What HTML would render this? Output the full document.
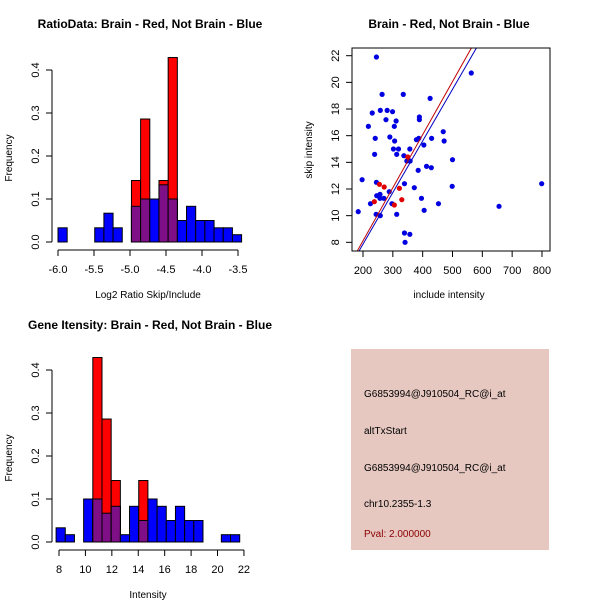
<!DOCTYPE html>
<html><head><meta charset="utf-8"><style>
html,body{margin:0;padding:0;background:#fff}
svg{display:block;font-family:"Liberation Sans",sans-serif}
</style></head><body>
<svg id="c" width="600" height="600" xmlns="http://www.w3.org/2000/svg">
<rect x="351" y="349" width="198" height="201" fill="#e6c8c1"/>
<g font-size="10" fill="#000">
<text x="364" y="397">G6853994@J910504_RC@i_at</text>
<text x="364" y="434">altTxStart</text>
<text x="364" y="471">G6853994@J910504_RC@i_at</text>
<text x="364" y="507">chr10.2355-1.3</text>
<text x="364" y="537" fill="#8b0000">Pval: 2.000000</text>
</g>
</svg>
<script>
// Histogram 1: log2 ratio
const h1Start = -6.0, h1Width = 0.1275;
const h1Blue = [0.033,0,0,0,0.033,0.067,0.033,0,0.083,0.1,0.1,0.133,0.1,0.05,0.083,0.05,0.05,0.033,0.033,0.017];
const h1Red  = [0,0,0,0,0,0,0,0,0.143,0.286,0,0.143,0.429,0,0,0,0,0,0,0];
const h1XTicks = [-6.0,-5.5,-5.0,-4.5,-4.0,-3.5];
const h1XLabels = ["-6.0","-5.5","-5.0","-4.5","-4.0","-3.5"];
const yTicks = [0,0.1,0.2,0.3,0.4];
const yLabels = ["0.0","0.1","0.2","0.3","0.4"];
// Histogram 2: intensity
const h2Start = 7.78, h2Width = 0.695;
const h2Blue = [0.033,0.017,0,0.1,0.1,0.067,0.083,0.017,0.083,0.05,0.1,0.083,0.05,0.083,0.05,0.05,0,0,0.017,0.017];
const h2Red  = [0,0,0,0,0.429,0.286,0.143,0,0,0.143,0,0,0,0,0,0,0,0,0,0];
const h2XTicks = [8,10,12,14,16,18,20,22];
// Scatter
const blueX = [245,563,264,335,425,231,258,281,299,277,311,389,389,218,305,469,241,290,430,387,379,306,472,404,302,319,357,313,239,337,500,347,358,385,413,429,245,197,339,372,499,799,246,257,270,257,288,396,453,225,297,656,184,405,244,258,313,339,357,341];
const blueY = [21.9,20.7,19.1,19.1,18.8,17.7,17.9,17.9,17.8,17.2,17.1,17.4,17.2,16.7,16.7,16.3,15.8,15.9,15.8,15.8,15.7,15.6,15.6,15.3,15.0,15.0,15.0,14.6,14.6,14.5,14.2,14.1,14.1,13.4,13.7,13.6,12.5,12.7,12.4,12.1,12.2,12.4,11.5,11.6,11.3,11.3,11.8,11.3,10.9,10.9,10.9,10.7,10.3,10.4,10.1,10.0,10.1,8.7,8.6,8.0];
const redX = [255,271,322,330,238,350,305];
const redY = [12.35,12.15,12.05,11.2,11.05,14.4,10.8];
const fitRed = [0.156,0.0398];
const fitBlue = [0.124,0.0387];
const sXTicks = [200,300,400,500,600,700,800];
const sYTicks = [8,10,12,14,16,18,20,22];

const svg = document.getElementById('c');
const NS = 'http://www.w3.org/2000/svg';
function mk(tag, attrs, parent){const e=document.createElementNS(NS,tag);for(const k in attrs)e.setAttribute(k,attrs[k]);(parent||svg).appendChild(e);return e;}
function txt(x,y,s,attrs){const e=mk('text',Object.assign({x:x,y:y,'text-anchor':'middle','font-size':11},attrs||{}));e.textContent=s;return e;}

function hist(o){
  const g=mk('g',{});
  
  
  const sx=v=>o.x0+(v-o.xmin)*o.kx, sy=v=>o.y0-v*o.ky;
  for(let i=0;i<o.blue.length;i++){
    const a=sx(o.start+i*o.w), b=sx(o.start+(i+1)*o.w);
    const bv=o.blue[i], rv=o.red[i];
    if(bv>0){const r=mk('rect',{x:a,y:sy(bv),width:b-a,height:sy(0)-sy(bv),fill:'#0000ff',stroke:'#000','stroke-width':1},g);
      
      }
    if(rv>0){const r=mk('rect',{x:a,y:sy(rv),width:b-a,height:sy(0)-sy(rv),fill:'#ff0000',stroke:'#000','stroke-width':1},g);
      
      }
    if(bv>0&&rv>0){const m=Math.min(bv,rv);const r=mk('rect',{x:a,y:sy(m),width:b-a,height:sy(0)-sy(m),fill:'#7f0f86',stroke:'#000','stroke-width':1},g);
      
      }
  }
  // y axis
  const ya=mk('g',{},g);
  
  
  mk('line',{x1:o.yax,x2:o.yax,y1:sy(0),y2:sy(0.4),stroke:'#000'},ya);
  yTicks.forEach((t,i)=>{mk('line',{x1:o.yax-6,x2:o.yax,y1:sy(t),y2:sy(t),stroke:'#000'},ya);
    const yy=sy(t);const l=txt(o.yax-13,yy,yLabels[i],{transform:`rotate(-90 ${o.yax-13} ${yy})`},);ya.appendChild(l);
    
    });
  // x axis
  const xa=mk('g',{},g);
  
  
  const ay=o.xay;
  mk('line',{x1:sx(o.ticks[0]),x2:sx(o.ticks[o.ticks.length-1]),y1:ay,y2:ay,stroke:'#000'},xa);
  o.ticks.forEach((t,i)=>{mk('line',{x1:sx(t),x2:sx(t),y1:ay,y2:ay+6,stroke:'#000'},xa);
    const l=txt(sx(t),ay+23,o.labels[i]);xa.appendChild(l);
    
    });
  const t=txt(150,o.titleY,o.title,{'font-weight':'bold','font-size':12});
  
  
  const xl=txt(148,o.xlabY,o.xlab,{'font-size':10});
  
  
  const yl=txt(12,o.ylabY,'Frequency',{'font-size':10,transform:`rotate(-90 12 ${o.ylabY})`});
  
  
}
hist({name:'ratio-histogram',start:h1Start,w:h1Width,blue:h1Blue,red:h1Red,xmin:-6.0,x0:58,kx:72,y0:242,ky:430,yax:52,xay:250,ticks:h1XTicks,labels:h1XLabels,title:'RatioData: Brain - Red, Not Brain - Blue',titleY:28,xlab:'Log2 Ratio Skip/Include',xlabY:298,ylabY:158});
hist({name:'intensity-histogram',start:h2Start,w:h2Width,blue:h2Blue,red:h2Red,xmin:8,x0:59,kx:13.21,y0:542,ky:430,yax:52,xay:550,ticks:h2XTicks,labels:h2XTicks.map(String),title:'Gene Itensity: Brain - Red, Not Brain - Blue',titleY:329,xlab:'Intensity',xlabY:598,ylabY:458});

// Scatter
(function(){
  const g=mk('g',{});
  
  
  const L=352,R=550,T=48,B=251;
  const sx=v=>363+(v-200)*0.2983, sy=v=>55.7-(v-22)*13.33;
  const cp=mk('clipPath',{id:'clp'},g);mk('rect',{x:L,y:T,width:R-L,height:B-T},cp);
  const pts=mk('g',{'clip-path':'url(#clp)'},g);
  blueX.forEach((x,i)=>{const c=mk('circle',{cx:sx(x),cy:sy(blueY[i]),r:2.6,fill:'#0000e0'},pts);
    
    });
  redX.forEach((x,i)=>{const c=mk('circle',{cx:sx(x),cy:sy(redY[i]),r:2.6,fill:'#e00000'},pts);
    
    });
  [[fitRed,'#c00000','red-fit-line'],[fitBlue,'#0000c0','blue-fit-line']].forEach(([f,col,n])=>{
    const l=mk('line',{x1:sx(100),y1:sy(f[0]+f[1]*100),x2:sx(900),y2:sy(f[0]+f[1]*900),stroke:col,'stroke-width':1},pts);
    
    });
  const box=mk('rect',{x:L,y:T,width:R-L,height:B-T,fill:'none',stroke:'#000'},g);
  
  
  sXTicks.forEach(t=>{mk('line',{x1:sx(t),x2:sx(t),y1:B,y2:B+6,stroke:'#000'},g);
    const l=txt(sx(t),B+23,String(t));
    });
  sYTicks.forEach(t=>{const y=sy(t);mk('line',{x1:L-6,x2:L,y1:y,y2:y,stroke:'#000'},g);
    const l=txt(L-13,y,String(t),{transform:`rotate(-90 ${L-13} ${y})`});
    });
  const t=txt(449,28,'Brain - Red, Not Brain - Blue',{'font-weight':'bold','font-size':12});
  
  
  const xl=txt(449,298,'include intensity',{'font-size':10});
  
  
  const yl=txt(312,150,'skip intensity',{'font-size':10,transform:'rotate(-90 312 150)'});
  
  
})();
</script>
</body></html>
